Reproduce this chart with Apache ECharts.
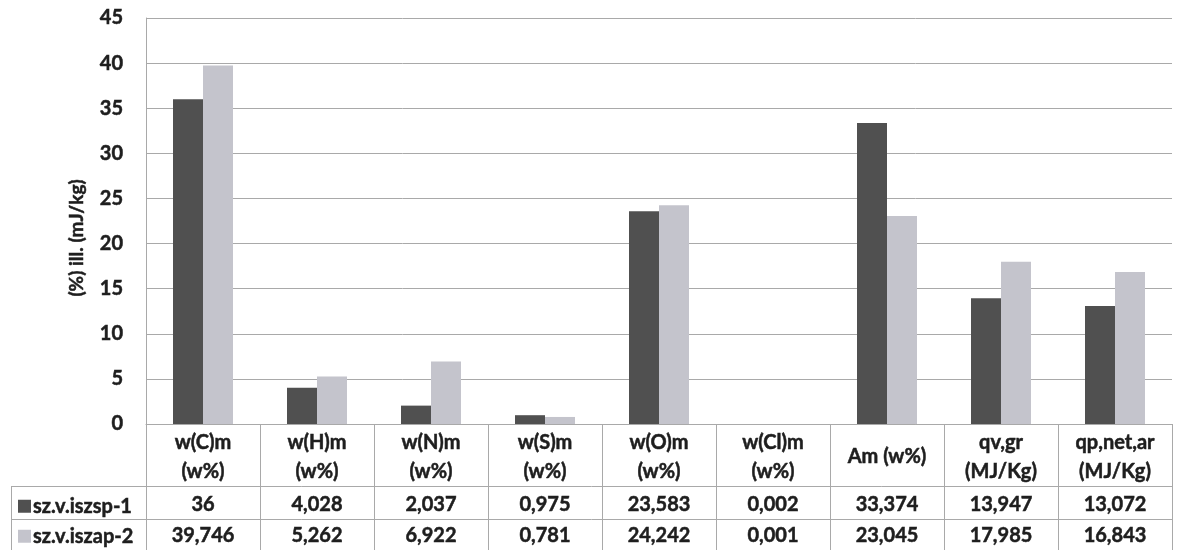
<!DOCTYPE html>
<html>
<head>
<meta charset="utf-8">
<script src="https://cdn.jsdelivr.net/npm/echarts@6/dist/echarts.min.js"></script>
<style>
html,body{margin:0;padding:0;background:#fff;}
#c{width:1177px;height:550px;}
</style>
</head>
<body>
<div id="c"></div>
<script>
const categories = ['w(C)m\n(w%)','w(H)m\n(w%)','w(N)m\n(w%)','w(S)m\n(w%)','w(O)m\n(w%)','w(Cl)m\n(w%)','Am (w%)','qv,gr\n(MJ/Kg)','qp,net,ar\n(MJ/Kg)'];
const seriesNames = ['sz.v.iszsp-1','sz.v.iszap-2'];
const series1 = [36, 4.028, 2.037, 0.975, 23.583, 0.002, 33.374, 13.947, 13.072];
const series2 = [39.746, 5.262, 6.922, 0.781, 24.242, 0.001, 23.045, 17.985, 16.843];
const yTicks = [0,5,10,15,20,25,30,35,40,45];
const yAxisName = '(%) ill. (mJ/kg)';

const FONT = 'Lato';
const TXT = '#1e1e1e';
const LINE = '#a9a9a9';
const fmt = v => String(v).replace('.', ',');
const heavy = {fontFamily:FONT, fontWeight:'bold', color:TXT, textBorderColor:TXT, textBorderWidth:0.5};

const chart = echarts.init(document.getElementById('c'), null, {renderer:'canvas'});
const gridLeft = 146, gridRight = 5, gridTop = 18, gridBottom = 126;
const H = 550, W = 1177;

const rowAxis = (data, offset) => ({
  type:'category', data: data.map(fmt), position:'bottom', offset: offset, gridIndex:0,
  axisLine:{show:false}, axisTick:{show:false},
  axisLabel:Object.assign({fontSize:20, margin:16, verticalAlign:'middle', interval:0}, heavy)
});

const legendFor = (i, top) => ({
  orient:'vertical', left:18, top:top, padding:0, itemWidth:13, itemHeight:13, itemGap:0,
  icon:'rect', data:[seriesNames[i]], selectedMode:false,
  textStyle:Object.assign({fontSize:20, lineHeight:20, padding:[0,0,0,-3]}, heavy)
});

chart.setOption({
  animation:false,
  backgroundColor:'#fff',
  grid:{left:gridLeft, right:gridRight, top:gridTop, bottom:gridBottom, containLabel:false},
  legend:[legendFor(0, 496), legendFor(1, 526)],
  xAxis:[
    {
      type:'category', data:categories, gridIndex:0,
      axisLine:{show:true, lineStyle:{color:LINE, width:1}},
      axisTick:{show:true, length:gridBottom, lineStyle:{color:LINE, width:1}},
      axisLabel:Object.assign({fontSize:20, lineHeight:29, margin:33, verticalAlign:'middle', interval:0}, heavy)
    },
    rowAxis(series1, 65),
    rowAxis(series2, 96)
  ],
  yAxis:{
    type:'value', min:yTicks[0], max:yTicks[yTicks.length-1], interval:5,
    name:yAxisName, nameLocation:'middle', nameGap:60, nameRotate:90,
    nameTextStyle:Object.assign({fontSize:19, padding:[0,0,0,-34]}, heavy),
    axisLine:{show:true, lineStyle:{color:LINE, width:1}},
    axisTick:{show:false},
    axisLabel:Object.assign({fontSize:20, margin:23}, heavy),
    splitLine:{show:true, lineStyle:{color:LINE, width:1}}
  },
  series:[
    {name:seriesNames[0], type:'bar', data:series1, barWidth:30, barGap:'0%', itemStyle:{color:'#505050'}},
    {name:seriesNames[1], type:'bar', data:series2, barWidth:30, barGap:'0%', itemStyle:{color:'#c4c4cc'}}
  ],
  graphic:[
    {type:'line', shape:{x1:11, y1:486.5, x2:W-gridRight, y2:486.5}, style:{stroke:LINE, lineWidth:1}, silent:true},
    {type:'line', shape:{x1:11, y1:519.5, x2:W-gridRight, y2:519.5}, style:{stroke:LINE, lineWidth:1}, silent:true},
    {type:'line', shape:{x1:11.5, y1:486, x2:11.5, y2:H}, style:{stroke:LINE, lineWidth:1}, silent:true}
  ]
});
</script>
</body>
</html>
